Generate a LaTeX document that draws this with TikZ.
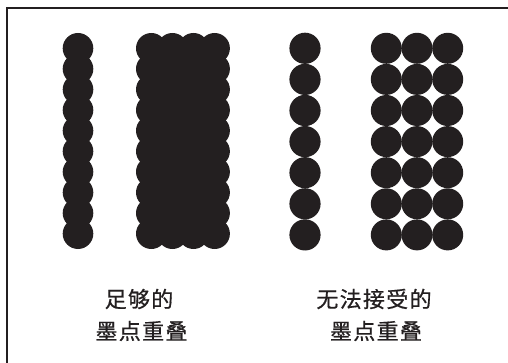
\documentclass[tikz,border=0pt]{standalone}
\usepackage{fontspec}
\setmainfont{Noto Sans CJK SC}
\definecolor{ink}{HTML}{231F20}
\begin{document}
\begin{tikzpicture}[x=1pt,y=-1pt,
  dot/.style={fill=ink,draw=none},
  lbl/.style={inner sep=0pt,text=ink,font=\fontsize{22}{26}\selectfont\addfontfeature{LetterSpace=6,FakeBold=0.6}}]
\useasboundingbox (0,0) rectangle (508,363);
\fill[white] (0,0) rectangle (508,363);
% frame (top and left edges)
\draw[ink,line width=2pt] (7,363) -- (7,8) -- (508,8);
% column 1: sufficient overlap, single column
\foreach \i in {0,...,9} {
  \fill[dot] (78,48.3+20.6*\i) circle (15.3);
}
% column 2: sufficient overlap block
\foreach \j in {0,...,3} {
  \foreach \i in {0,...,9} {
    \fill[dot] (151.3+21.1*\j,48.3+20.6*\i) circle (15.3);
  }
}
% column 3: insufficient overlap, single column
\foreach \i in {0,...,6} {
  \fill[dot] (305,48.3+31.1*\i) circle (15.6);
}
% column 4: insufficient overlap block
\foreach \j in {0,...,2} {
  \foreach \i in {0,...,6} {
    \fill[dot] (386.3+30.7*\j,48.3+31.1*\i) circle (15.5);
  }
}
\node[lbl] (l1) at (139,299) {足够的};
\node[lbl] (l2) at (141.5,331) {墨点重叠};
\node[lbl] (r1) at (374,299) {无法接受的};
\node[lbl] (r2) at (376,331) {墨点重叠};
\end{tikzpicture}
\end{document}
